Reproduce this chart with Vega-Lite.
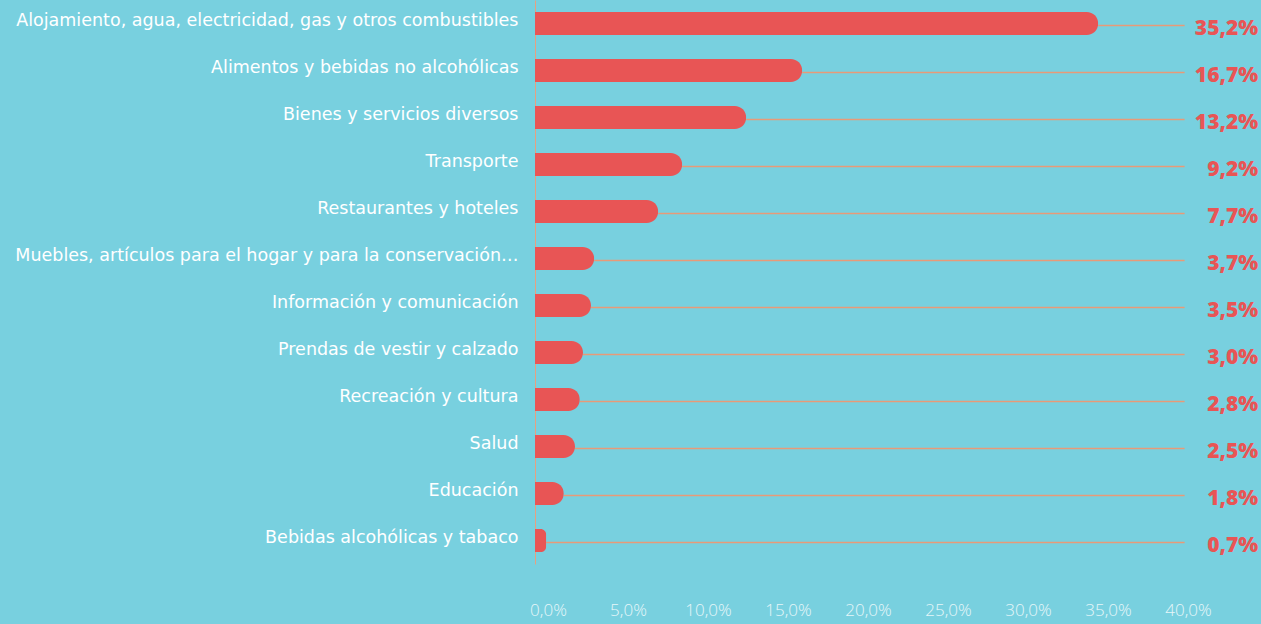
{
  "$schema": "https://vega.github.io/schema/vega-lite/v6.json",
  "width": 640,
  "height": 564,
  "autosize": "none",
  "padding": {"left": 535, "top": 0, "right": 86, "bottom": 60},
  "background": "#78D0DF",
  "config": {"view": {"stroke": null}},
  "data": {"values": [
    {"cat": "Alojamiento, agua, electricidad, gas y otros combustibles", "v": 35.2, "label": "35,2%"},
    {"cat": "Alimentos y bebidas no alcohólicas", "v": 16.7, "label": "16,7%"},
    {"cat": "Bienes y servicios diversos", "v": 13.2, "label": "13,2%"},
    {"cat": "Transporte", "v": 9.2, "label": "9,2%"},
    {"cat": "Restaurantes y hoteles", "v": 7.7, "label": "7,7%"},
    {"cat": "Muebles, artículos para el hogar y para la conservación…", "v": 3.7, "label": "3,7%"},
    {"cat": "Información y comunicación", "v": 3.5, "label": "3,5%"},
    {"cat": "Prendas de vestir y calzado", "v": 3.0, "label": "3,0%"},
    {"cat": "Recreación y cultura", "v": 2.8, "label": "2,8%"},
    {"cat": "Salud", "v": 2.5, "label": "2,5%"},
    {"cat": "Educación", "v": 1.8, "label": "1,8%"},
    {"cat": "Bebidas alcohólicas y tabaco", "v": 0.7, "label": "0,7%"}
  ]},
  "encoding": {
    "y": {"field": "cat", "type": "nominal", "sort": null, "title": null,
      "scale": {"paddingInner": 0.5, "paddingOuter": 0.25},
      "axis": {"domainColor": "#E8A080", "domainWidth": 1, "ticks": false, "labelPadding": 17, "labelLimit": 530,
        "labelFont": "DejaVu Sans", "labelFontSize": 17.5, "labelColor": "#FFFFFF", "labelOffset": -3}}
  },
  "layer": [
    {
      "mark": {"type": "rule", "color": "#E89A78", "strokeWidth": 1.3, "yOffset": 2, "clip": false},
      "encoding": {
        "x": {"field": "v", "type": "quantitative", "scale": {"domain": [0, 40]}, "title": null,
          "axis": {"domain": false, "ticks": false, "grid": false, "values": [0,5,10,15,20,25,30,35,40],
            "labelFlush": false, "labelOverlap": false,
            "labelExpr": "replace(format(datum.value, '.1f'), '.', ',') + '%'",
            "labelPadding": 38, "labelOffset": 13, "labelFont": "Open Sans", "labelFontWeight": 300, "labelFontSize": 17, "labelColor": "#E6F6F9"}},
        "x2": {"datum": 40.6}
      }
    },
    {
      "mark": {"type": "bar", "color": "#E85555", "height": 23, "cornerRadiusEnd": 11.5},
      "encoding": {"x": {"field": "v", "type": "quantitative"}}
    },
    {
      "mark": {"type": "text", "align": "right", "baseline": "middle", "dy": 5, "font": "Open Sans", "fontWeight": 800, "fontSize": 21, "color": "#E85555", "clip": false},
      "encoding": {"x": {"datum": 45.2}, "text": {"field": "label"}}
    }
  ]
}
